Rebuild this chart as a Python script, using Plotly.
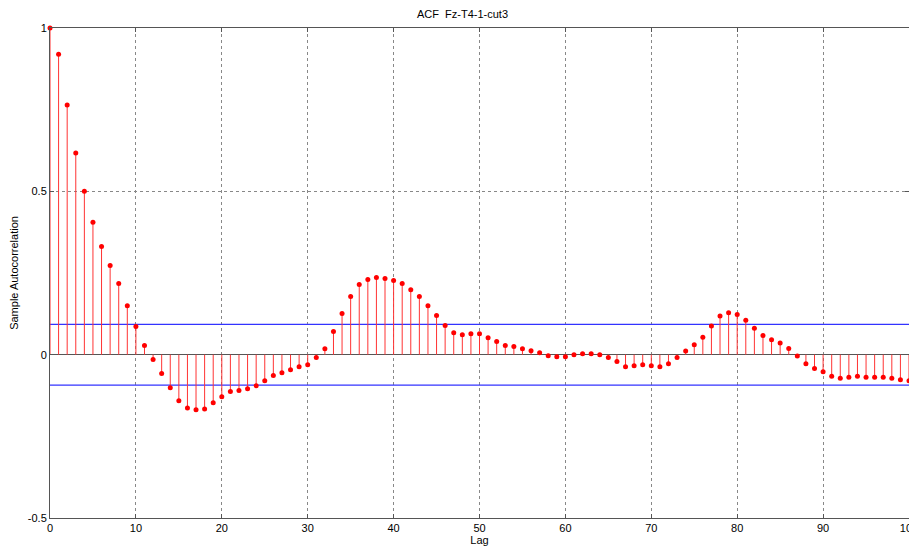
import plotly.graph_objects as go

lags = list(range(0, 101))
acf = [1.000, 0.920, 0.764, 0.617, 0.500, 0.405, 0.331, 0.273, 0.218, 0.150,
       0.086, 0.028, -0.015, -0.058, -0.101, -0.141, -0.163, -0.169, -0.166, -0.147,
       -0.129, -0.113, -0.110, -0.104, -0.095, -0.080, -0.064, -0.055, -0.046, -0.037,
       -0.031, -0.009, 0.018, 0.071, 0.126, 0.178, 0.215, 0.230, 0.236, 0.233,
       0.227, 0.218, 0.199, 0.178, 0.150, 0.120, 0.089, 0.067, 0.061, 0.064,
       0.064, 0.052, 0.040, 0.028, 0.025, 0.018, 0.012, 0.006, -0.003, -0.006,
       -0.006, 0.000, 0.003, 0.003, 0.000, -0.009, -0.021, -0.037, -0.034, -0.031,
       -0.034, -0.037, -0.028, -0.009, 0.011, 0.030, 0.053, 0.088, 0.118, 0.128,
       0.123, 0.105, 0.081, 0.059, 0.046, 0.036, 0.019, -0.004, -0.028, -0.042,
       -0.052, -0.066, -0.072, -0.069, -0.066, -0.069, -0.069, -0.069, -0.072, -0.077,
       -0.080]
bound = 0.093
title = "ACF  Fz-T4-1-cut3"
xticks = list(range(0, 101, 10))
yticks = [-0.5, 0, 0.5, 1]
yticklabels = ["-0.5", "0", "0.5", "1"]

FONT = "Liberation Sans Narrow, Arial Narrow, Liberation Sans, sans-serif"

sx, sy = [], []
for l, v in zip(lags, acf):
    sx += [l, l, None]
    sy += [0, v, None]

fig = go.Figure()
fig.add_trace(go.Scatter(x=[0, 100], y=[bound, bound], mode="lines",
                         line=dict(color="#3333ff", width=1.2), showlegend=False))
fig.add_trace(go.Scatter(x=[0, 100], y=[-bound, -bound], mode="lines",
                         line=dict(color="#3333ff", width=1.2), showlegend=False))
fig.add_trace(go.Scatter(x=sx, y=sy, mode="lines", line=dict(color="#ff3333", width=1),
                         hoverinfo="skip", showlegend=False, cliponaxis=False))
fig.add_trace(go.Scatter(x=lags, y=acf, mode="markers", cliponaxis=False,
                         marker=dict(color="red", size=5), showlegend=False))

axis_common = dict(showline=True, linecolor="#555555", linewidth=1, mirror="allticks",
                   ticks="inside", ticklen=4, tickcolor="#555555", automargin=False,
                   showgrid=True, gridcolor="#888888", griddash="dot", gridwidth=1,
                   ticklabeloverflow="allow",
                   tickfont=dict(family=FONT, size=11, color="black"))
fig.update_xaxes(range=[0, 100], tickvals=xticks, zeroline=False,
                 title=dict(text="Lag", font=dict(family=FONT, size=11, color="black"), standoff=2),
                 **axis_common)
fig.update_yaxes(range=[-0.5, 1], tickvals=yticks, ticktext=yticklabels,
                 zeroline=True, zerolinecolor="#555555", zerolinewidth=1,
                 title=dict(text="Sample Autocorrelation", font=dict(family=FONT, size=11, color="black"), standoff=10),
                 **axis_common)
fig.update_layout(
    width=909, height=542,
    margin=dict(l=42, r=8, t=20, b=32),
    paper_bgcolor="white", plot_bgcolor="white",
    font=dict(family=FONT, size=11, color="black"),
    title=dict(text=title, x=0.5, xanchor="center", y=0.995, yanchor="top",
               font=dict(family=FONT, size=11, color="black")),
)
fig.write_html("out.html")
